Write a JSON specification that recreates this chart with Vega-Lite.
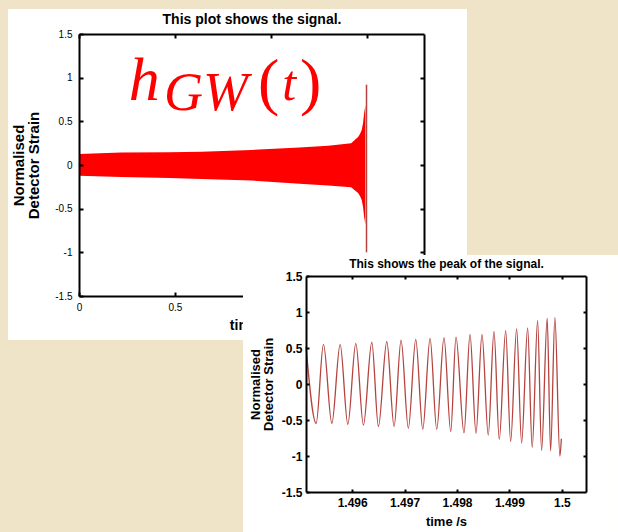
{
  "$schema": "https://vega.github.io/schema/vega-lite/v6.json",
  "padding": 0,
  "background": "#efe4c8",
  "spacing": 0,
  "bounds": "flush",
  "config": {
    "view": {"stroke": null},
    "axis": {
      "grid": false,
      "domainColor": "#000000",
      "tickColor": "#000000",
      "labelColor": "#000000",
      "titleColor": "#000000",
      "labelFont": "Liberation Sans",
      "titleFont": "Liberation Sans",
      "titleFontWeight": "bold",
      "labelFlush": false,
      "labelOverlap": false,
      "domainWidth": 2,
      "tickWidth": 2
    }
  },
  "vconcat": [
    {
      "width": 618,
      "height": 1,
      "resolve": {"axis": {"x": "independent", "y": "independent"}},
      "layer": [
        {
          "data": {"values": [{}]},
          "mark": {"type": "rect", "color": "#ffffff"},
          "encoding": {
            "x": {
              "datum": -0.3704, "type": "quantitative",
              "scale": {"domain": [0, 1.8], "range": [79, 424], "nice": false, "zero": false},
              "axis": {
                "orient": "bottom", "offset": 295, "zindex": 1, "values": [0, 0.5, 1, 1.5],
                "labelExpr": "datum.value + ''", "tickSize": -4, "labelPadding": 10,
                "labelFontSize": 10, "title": "time /s", "titleFontSize": 14, "titlePadding": 6
              }
            },
            "x2": {"datum": 2.0243},
            "y": {
              "datum": 1.7863, "type": "quantitative",
              "scale": {"domain": [-1.5, 1.5], "range": [296, 34], "nice": false, "zero": false},
              "axis": {
                "orient": "left", "offset": -79, "zindex": 1, "values": [-1.5, -1, -0.5, 0, 0.5, 1, 1.5],
                "labelExpr": "datum.value + ''", "tickSize": -4, "labelPadding": 11,
                "labelFontSize": 10, "title": ["Normalised", "Detector Strain"],
                "titleFontSize": 15, "titleLineHeight": 15, "titlePadding": 13
              }
            },
            "y2": {"datum": -2.0038}
          }
        },
        {
          "data": {
            "values": [
              {"t": 0.0, "hi": 0.126, "lo": -0.123},
              {"t": 0.22, "hi": 0.142, "lo": -0.137},
              {"t": 0.47, "hi": 0.146, "lo": -0.15},
              {"t": 0.64, "hi": 0.153, "lo": -0.16},
              {"t": 0.9, "hi": 0.172, "lo": -0.178},
              {"t": 1.15, "hi": 0.2, "lo": -0.215},
              {"t": 1.3, "hi": 0.22, "lo": -0.235},
              {"t": 1.42, "hi": 0.25, "lo": -0.255},
              {"t": 1.456, "hi": 0.32, "lo": -0.32},
              {"t": 1.466, "hi": 0.355, "lo": -0.355},
              {"t": 1.475, "hi": 0.4, "lo": -0.4},
              {"t": 1.482, "hi": 0.48, "lo": -0.48},
              {"t": 1.488, "hi": 0.6, "lo": -0.6},
              {"t": 1.494, "hi": 0.68, "lo": -0.68}
            ]
          },
          "mark": {"type": "area", "color": "#ff0000", "opacity": 1},
          "encoding": {
            "x": {
              "field": "t", "type": "quantitative",
              "scale": {"domain": [0, 1.8], "range": [79, 424], "nice": false, "zero": false},
              "axis": {
                "orient": "top", "offset": -34, "zindex": 1, "values": [0, 0.5, 1, 1.5], "labels": false,
                "tickSize": -4, "title": "This plot shows the signal.", "titleFontSize": 14, "titlePadding": 7
              }
            },
            "y": {
              "field": "hi", "type": "quantitative",
              "scale": {"domain": [-1.5, 1.5], "range": [296, 34], "nice": false, "zero": false},
              "axis": {
                "orient": "right", "offset": -194, "zindex": 1, "values": [-1, -0.5, 0, 0.5, 1],
                "labels": false, "tickSize": -4, "title": null
              }
            },
            "y2": {"field": "lo"}
          }
        },
        {
          "data": {"values": [{"t": 1.5, "hi": 0.92, "lo": -1.0}]},
          "mark": {"type": "rule", "color": "#b8433e", "strokeWidth": 1.5},
          "encoding": {
            "x": {"field": "t", "type": "quantitative", "scale": {"domain": [0, 1.8], "range": [79, 424], "nice": false, "zero": false}, "axis": null},
            "y": {"field": "hi", "type": "quantitative", "scale": {"domain": [-1.5, 1.5], "range": [296, 34], "nice": false, "zero": false}, "axis": null},
            "y2": {"field": "lo"}
          }
        },
        {
          "data": {"values": [{}]},
          "mark": {"type": "text", "text": "h", "font": "Liberation Serif", "fontStyle": "italic", "fontSize": 62, "color": "#ff0000", "align": "left", "baseline": "alphabetic"},
          "encoding": {
            "x": {"datum": 0.26, "type": "quantitative", "scale": {"domain": [0, 1.8], "range": [79, 424], "nice": false, "zero": false}, "axis": null},
            "y": {"datum": 0.744, "type": "quantitative", "scale": {"domain": [-1.5, 1.5], "range": [296, 34], "nice": false, "zero": false}, "axis": null}
          }
        },
        {
          "data": {"values": [{}]},
          "mark": {"type": "text", "text": "GW", "font": "Liberation Serif", "fontStyle": "italic", "fontSize": 54, "color": "#ff0000", "align": "left", "baseline": "alphabetic"},
          "encoding": {
            "x": {"datum": 0.4435, "type": "quantitative", "scale": {"domain": [0, 1.8], "range": [79, 424], "nice": false, "zero": false}, "axis": null},
            "y": {"datum": 0.63, "type": "quantitative", "scale": {"domain": [-1.5, 1.5], "range": [296, 34], "nice": false, "zero": false}, "axis": null}
          }
        },
        {
          "data": {"values": [{}]},
          "mark": {"type": "text", "text": "(", "font": "Liberation Serif", "fontSize": 64, "color": "#ff0000", "align": "left", "baseline": "alphabetic"},
          "encoding": {
            "x": {"datum": 0.934, "type": "quantitative", "scale": {"domain": [0, 1.8], "range": [79, 424], "nice": false, "zero": false}, "axis": null},
            "y": {"datum": 0.71, "type": "quantitative", "scale": {"domain": [-1.5, 1.5], "range": [296, 34], "nice": false, "zero": false}, "axis": null}
          }
        },
        {
          "data": {"values": [{}]},
          "mark": {"type": "text", "text": "t", "font": "Liberation Serif", "fontStyle": "italic", "fontSize": 50, "color": "#ff0000", "align": "left", "baseline": "alphabetic"},
          "encoding": {
            "x": {"datum": 1.06, "type": "quantitative", "scale": {"domain": [0, 1.8], "range": [79, 424], "nice": false, "zero": false}, "axis": null},
            "y": {"datum": 0.744, "type": "quantitative", "scale": {"domain": [-1.5, 1.5], "range": [296, 34], "nice": false, "zero": false}, "axis": null}
          }
        },
        {
          "data": {"values": [{}]},
          "mark": {"type": "text", "text": ")", "font": "Liberation Serif", "fontSize": 64, "color": "#ff0000", "align": "left", "baseline": "alphabetic"},
          "encoding": {
            "x": {"datum": 1.153, "type": "quantitative", "scale": {"domain": [0, 1.8], "range": [79, 424], "nice": false, "zero": false}, "axis": null},
            "y": {"datum": 0.71, "type": "quantitative", "scale": {"domain": [-1.5, 1.5], "range": [296, 34], "nice": false, "zero": false}, "axis": null}
          }
        }
      ]
    },
    {
      "width": 618,
      "height": 531,
      "resolve": {"axis": {"x": "independent", "y": "independent"}},
      "layer": [
        {
          "data": {"values": [{}]},
          "mark": {"type": "rect", "color": "#ffffff"},
          "encoding": {
            "x": {
              "datum": 1.4939185, "type": "quantitative",
              "scale": {"domain": [1.49512, 1.50046], "range": [306, 586], "nice": false, "zero": false},
              "axis": {
                "orient": "bottom", "offset": -40, "zindex": 1, "values": [1.496, 1.497, 1.498, 1.499, 1.5],
                "labelExpr": "datum.value + ''", "tickSize": -3, "labelPadding": 8,
                "labelFontSize": 12, "labelFontWeight": "bold",
                "title": "time /s", "titleFontSize": 13, "titlePadding": 7
              }
            },
            "x2": {"datum": 1.50107},
            "y": {
              "datum": 1.7917, "type": "quantitative",
              "scale": {"domain": [-1.5, 1.5], "range": [491, 275], "nice": false, "zero": false},
              "axis": {
                "orient": "left", "offset": -306, "zindex": 1, "values": [-1.5, -1, -0.5, 0, 0.5, 1, 1.5],
                "labelExpr": "datum.value + ''", "tickSize": -3, "labelPadding": 7,
                "labelFontSize": 12, "labelFontWeight": "bold",
                "title": ["Normalised", "Detector Strain"],
                "titleFontSize": 13, "titleLineHeight": 13, "titlePadding": 6
              }
            },
            "y2": {"datum": -2.0556}
          }
        },
        {
          "data": {
            "values": [
              {"t": 1.49512, "h": 0.52},
              {"t": 1.495314, "h": -0.546},
              {"t": 1.495453, "h": 0.55},
              {"t": 1.495613, "h": -0.546},
              {"t": 1.495771, "h": 0.55},
              {"t": 1.495918, "h": -0.56},
              {"t": 1.49607, "h": 0.565},
              {"t": 1.496215, "h": -0.57},
              {"t": 1.496375, "h": 0.58},
              {"t": 1.496501, "h": -0.59},
              {"t": 1.496661, "h": 0.59},
              {"t": 1.4968, "h": -0.59},
              {"t": 1.496933, "h": 0.61},
              {"t": 1.497072, "h": -0.615},
              {"t": 1.497213, "h": 0.62},
              {"t": 1.497347, "h": -0.63},
              {"t": 1.497486, "h": 0.635},
              {"t": 1.497613, "h": -0.63},
              {"t": 1.497752, "h": 0.645},
              {"t": 1.49788, "h": -0.66},
              {"t": 1.497981, "h": 0.65},
              {"t": 1.498133, "h": -0.68},
              {"t": 1.498248, "h": 0.69},
              {"t": 1.498362, "h": -0.685},
              {"t": 1.498476, "h": 0.69},
              {"t": 1.498596, "h": -0.71},
              {"t": 1.498705, "h": 0.73},
              {"t": 1.498806, "h": -0.77},
              {"t": 1.498928, "h": 0.74},
              {"t": 1.499023, "h": -0.8},
              {"t": 1.499137, "h": 0.77},
              {"t": 1.499232, "h": -0.82},
              {"t": 1.499347, "h": 0.78},
              {"t": 1.499434, "h": -0.88},
              {"t": 1.499537, "h": 0.88},
              {"t": 1.499613, "h": -0.92},
              {"t": 1.49972, "h": 0.91},
              {"t": 1.499785, "h": -0.93},
              {"t": 1.499867, "h": 0.92},
              {"t": 1.499962, "h": -1.0},
              {"t": 1.49999, "h": -0.76}
            ]
          },
          "mark": {"type": "line", "color": "#b5443f", "strokeWidth": 1.3, "interpolate": "monotone"},
          "encoding": {
            "x": {
              "field": "t", "type": "quantitative",
              "scale": {"domain": [1.49512, 1.50046], "range": [306, 586], "nice": false, "zero": false},
              "axis": {
                "orient": "top", "offset": -275, "zindex": 1, "values": [1.496, 1.497, 1.498, 1.499, 1.5],
                "labels": false, "tickSize": -3,
                "title": "This shows the peak of the signal.", "titleFontSize": 12, "titlePadding": 5
              }
            },
            "y": {
              "field": "h", "type": "quantitative",
              "scale": {"domain": [-1.5, 1.5], "range": [491, 275], "nice": false, "zero": false},
              "axis": {
                "orient": "right", "offset": -32, "zindex": 1, "values": [-1, -0.5, 0, 0.5, 1],
                "labels": false, "tickSize": -3, "title": null
              }
            }
          }
        }
      ]
    }
  ]
}
